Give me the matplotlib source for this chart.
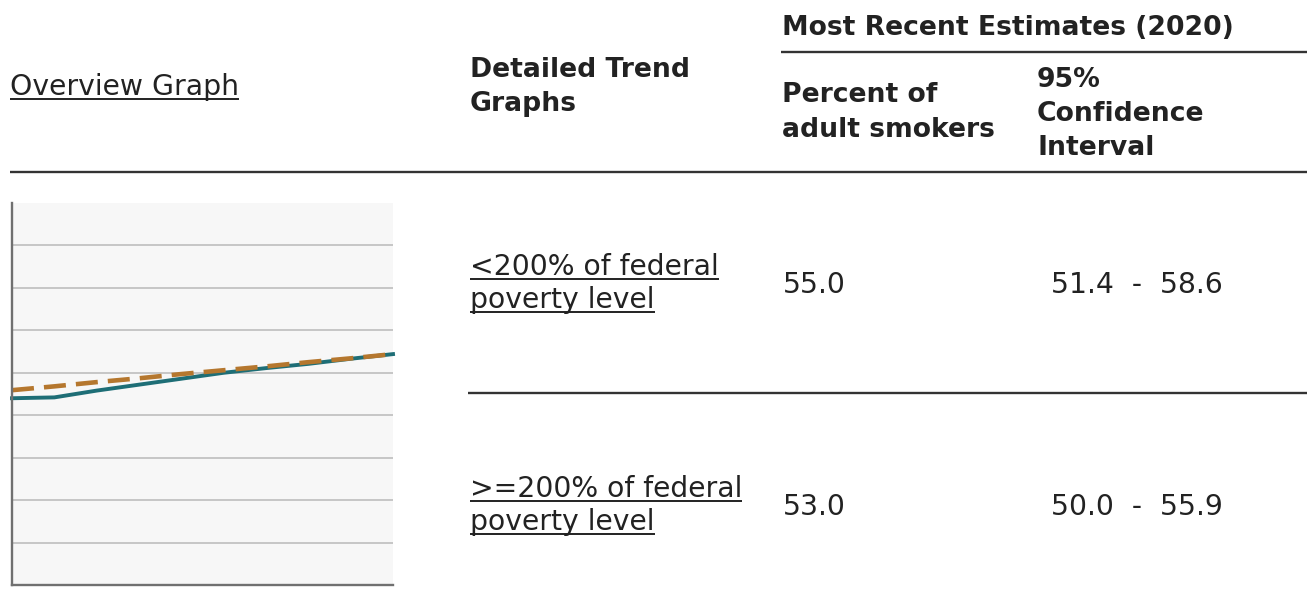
import matplotlib
matplotlib.use("Agg")
from matplotlib import pyplot as plt

# overview sparkline values (y axis 0-90)
years = list(range(2011, 2021))
below_200 = [44.0, 44.2, 45.8, 47.2, 48.6, 50.0, 51.1, 52.1, 53.3, 54.4]
above_200 = [45.9, 46.8, 47.8, 48.7, 49.7, 50.6, 51.5, 52.5, 53.4, 54.4]

# table contents
row_labels = [["<200% of federal", "poverty level"],
              [">=200% of federal", "poverty level"]]
percents = ["55.0", "53.0"]
ci_low = ["51.4", "50.0"]
ci_high = ["58.6", "55.9"]

W, H = 1307, 612
fig = plt.figure(figsize=(W / 100, H / 100), dpi=100)
page = fig.add_axes([0, 0, 1, 1])
page.set_xlim(0, W)
page.set_ylim(H, 0)
page.axis("off")

TXT = "#222222"
FS = 20.3        # regular text
FS_B = 19.2      # bold headers
links = []


def put(x, y, s, bold=False, link=False):
  t = page.text(x, y, s, fontsize=FS_B if bold else FS,
                fontweight="bold" if bold else "normal",
                color=TXT, va="baseline", ha="left", family="DejaVu Sans")
  if link:
    links.append((t, y))
  return t


# header
put(10, 95, "Overview Graph", link=True)
put(470, 77, "Detailed Trend", bold=True)
put(470, 111, "Graphs", bold=True)
put(782, 35, "Most Recent Estimates (2020)", bold=True)
put(782, 102, "Percent of", bold=True)
put(782, 137, "adult smokers", bold=True)
put(1037, 87, "95%", bold=True)
put(1037, 121, "Confidence", bold=True)
put(1037, 155, "Interval", bold=True)

page.plot([781, W], [52, 52], color="#333333", lw=1.7, solid_capstyle="butt")
page.plot([10, W], [172, 172], color="#333333", lw=1.7, solid_capstyle="butt")

# rows
row_base = [275, 497]
for i in range(len(row_labels)):
  b = row_base[i]
  put(470, b, row_labels[i][0], link=True)
  put(470, b + 33, row_labels[i][1], link=True)
  put(783, b + 18, percents[i])
  put(1051, b + 18, ci_low[i] + "  -  " + ci_high[i])

page.plot([468, W], [393, 393], color="#333333", lw=1.7, solid_capstyle="butt")

# underline the link texts
fig.canvas.draw()
r = fig.canvas.get_renderer()
inv = page.transData.inverted()
for t, y in links:
  bb = t.get_window_extent(renderer=r)
  x0 = inv.transform((bb.x0, bb.y0))[0]
  x1 = inv.transform((bb.x1, bb.y0))[0]
  page.plot([x0, x1], [y + 3.5, y + 3.5], color=TXT, lw=1.4, solid_capstyle="butt")

# sparkline
ax = fig.add_axes([12 / W, 1 - 585 / H, (393 - 12) / W, (585 - 203) / H])
ax.set_facecolor("#f7f7f7")
ax.set_xlim(years[0], years[-1])
ax.set_ylim(0, 90)
ax.set_yticks(range(10, 90, 10))
ax.set_xticks([])
ax.grid(axis="y", color="#c2c2c2", lw=1.3)
ax.set_axisbelow(True)
ax.tick_params(length=0, labelleft=False, labelbottom=False)
for s in ["top", "right"]:
  ax.spines[s].set_visible(False)
for s in ["left", "bottom"]:
  ax.spines[s].set_color("#707070")
  ax.spines[s].set_linewidth(1.7)

ax.plot(years, below_200, color="#1e6e76", lw=2.8, clip_on=False)
ax.plot(years, above_200, color="#b5772e", lw=3.3, dashes=(4.8, 2.2), clip_on=False)

fig.savefig("out.png", dpi=100)
